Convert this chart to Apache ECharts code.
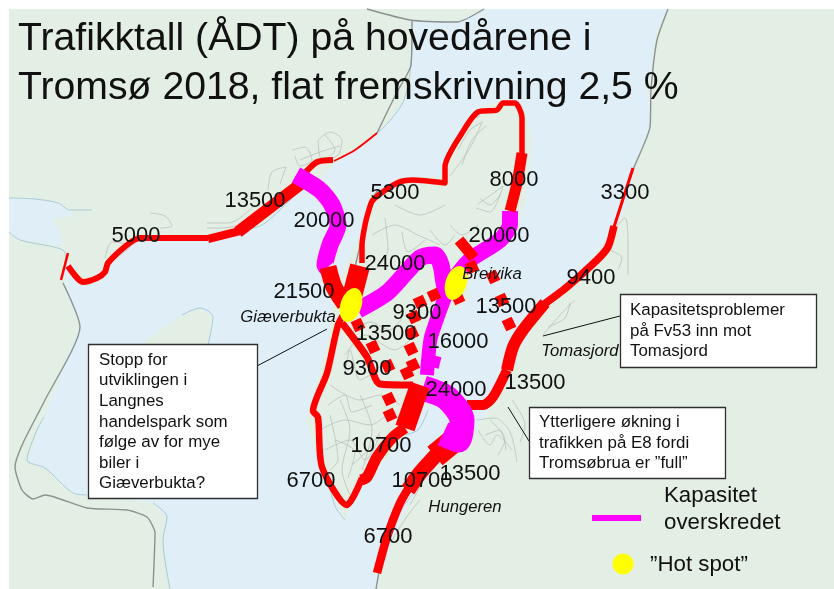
<!DOCTYPE html>
<html>
<head>
<meta charset="utf-8">
<style>html,body{margin:0;padding:0;background:#fff}#chart{width:834px;height:589px}</style>
<script src="https://cdn.jsdelivr.net/npm/echarts@6/dist/echarts.min.js"></script>
</head>
<body>
<div id="chart"></div>
<script>
// kart-koordinater
const tittel = 'Trafikktall (ÅDT) på hovedårene i\nTromsø 2018, flat fremskrivning 2,5 %';

// sjø og land
const kart = [[9, 9], [834, 9], [834, 589], [9, 589]];
const sjo = [[484, 9], [457, 21], [412, 20], [410, 60], [412, 75], [404, 100], [388, 123], [375, 135], [337, 162], [318, 180], [300, 190], [262, 225], [207, 238], [172, 238], [140, 236], [110, 265], [83, 283], [68, 262], [64, 272], [66, 292], [80, 325], [44, 417], [27, 460], [45, 468], [73, 493], [87, 495], [153, 503], [167, 517], [163, 540], [170, 589], [375, 589], [380, 575], [403, 513], [423, 483], [453, 447], [477, 427], [495, 400], [510, 360], [527, 340], [543, 307], [567, 287], [607, 240], [627, 207], [633, 170], [650, 127], [648, 90], [657, 30], [668, 9]];
const vik = [[9, 198], [35, 199], [58, 203], [70, 210], [73, 216], [52, 219], [60, 232], [63, 246], [40, 243], [20, 240], [9, 232]];
const tromsoya = [[513, 99], [480, 106], [455, 138], [443, 175], [400, 180], [370, 195], [358, 240], [345, 265], [335, 295], [328, 340], [312, 400], [306, 420], [320, 470], [345, 520], [362, 484], [392, 452], [415, 426], [425, 402], [432, 380], [436, 360], [431, 340], [440, 320], [468, 300], [472, 262], [505, 245], [525, 205], [532, 140], [525, 110]];
const neset = [[182, 315], [200, 308], [213, 317], [208, 345], [200, 420], [150, 498], [100, 470], [140, 345]];

// grå bilveier og strandlinjer
const gravei = [
  [[367, 9], [410, 20], [457, 22], [484, 9]],
  [[412, 20], [411, 65], [397, 92], [377, 133]],
  [[668, 9], [657, 40], [651, 90], [650, 127], [633, 170], [613, 230]],
  [[63, 283], [80, 327], [45, 400], [23, 443], [15, 467], [22, 490], [33, 499], [45, 495], [87, 508], [127, 510], [147, 517], [155, 533], [153, 587]],
  [[355, 267], [365, 225], [372, 200], [378, 190]],
  [[381, 560], [376, 589]]
];
const strand = [
  [[9, 198], [35, 199], [58, 203], [70, 210], [92, 210]],
  [[9, 232], [20, 240], [63, 250], [66, 262]],
  [[44, 417], [36, 432], [27, 460], [45, 468], [73, 493], [87, 495]],
  [[153, 503], [167, 517], [163, 540], [170, 589]],
  [[182, 315], [200, 308], [213, 317], [208, 345]],
  [[412, 40], [411, 65], [404, 100], [388, 123], [375, 135]],
  [[345, 520], [336, 508], [330, 490]],
  [[240, 231], [262, 225], [282, 208], [295, 195]],
  [[403, 435], [418, 430], [428, 410]]
];
const gater = [
  [[292, 150], [305, 147], [312, 160], [300, 166], [295, 156]],
  [[318, 140], [330, 132], [342, 140], [338, 155], [322, 160], [318, 140]],
  [[300, 160], [320, 152], [340, 146]],
  [[325, 135], [335, 150], [328, 158]],
  [[268, 190], [272, 172], [286, 167], [280, 184]],
  [[207, 223], [228, 223], [240, 218], [255, 205]],
  [[207, 228], [222, 228], [236, 226]],
  [[150, 213], [165, 216], [172, 226], [160, 228]],
  [[105, 258], [112, 242], [130, 246], [110, 262]],
  [[452, 148], [468, 122], [480, 116]],
  [[458, 150], [470, 130], [482, 122], [470, 148], [450, 176]],
  [[462, 165], [472, 140], [486, 126]],
  [[478, 204], [495, 192], [503, 186], [490, 212], [476, 208]],
  [[480, 198], [490, 205], [500, 195]],
  [[372, 235], [395, 225], [418, 235], [440, 245]],
  [[385, 218], [388, 250], [375, 270]],
  [[402, 232], [408, 252], [425, 240]],
  [[395, 205], [420, 215], [445, 205]],
  [[450, 225], [462, 235], [478, 225]],
  [[430, 230], [445, 245], [455, 235]],
  [[345, 355], [365, 335], [395, 350], [410, 340]],
  [[355, 330], [370, 322], [390, 330], [402, 318]],
  [[330, 385], [360, 400], [380, 395], [400, 405]],
  [[320, 430], [345, 420], [370, 425], [392, 410]],
  [[325, 450], [350, 440], [365, 460], [380, 435]],
  [[340, 400], [350, 430], [342, 470], [350, 495]],
  [[360, 395], [372, 430], [362, 470]],
  [[330, 415], [338, 460], [330, 470]],
  [[352, 465], [368, 450], [380, 432]],
  [[345, 375], [350, 350], [360, 380], [375, 372]],
  [[328, 405], [345, 395], [352, 412], [372, 405]],
  [[335, 440], [355, 452], [348, 478]],
  [[477, 420], [495, 418], [510, 432], [517, 462]],
  [[485, 435], [500, 430], [506, 450]],
  [[478, 430], [490, 445], [497, 435], [512, 450]],
  [[512, 400], [525, 425], [520, 442]],
  [[490, 420], [505, 440], [498, 455]],
  [[612, 232], [625, 218], [628, 245], [628, 275]],
  [[610, 250], [622, 258], [618, 270]],
  [[543, 335], [560, 315], [575, 300]],
  [[548, 327], [565, 318], [570, 302]],
  [[402, 508], [412, 495], [421, 485], [410, 505]],
  [[392, 540], [408, 515], [420, 500]]
];

// riks- og fylkesveier
const kvaloyaTynn = [[68, 253], [61, 280]];
const kvaloyaVest = [[68, 266], [83, 282], [97, 278], [105, 272], [108, 263], [127, 245], [140, 238], [160, 238], [208, 238]];
const kvaloyaMidt = [[208, 239], [240, 231]];
const kvaloyaOst = [[238, 232], [302, 183]];
const kvaloyaNord = [[305, 173], [317, 162], [333, 160]];
const kvaloyaNordTynn = [[334, 161], [355, 150], [377, 133]];
const kvaloyBrua = [[296, 175], [320, 190], [332, 205], [338, 225], [330, 245], [325, 265], [327, 268]];
const gieverVest = [[328, 267], [334, 287], [345, 304]];
const gieverNord = [[360, 266], [350, 304]];
const hovedTverr = [[358, 310], [388, 292], [420, 258], [435, 255], [441, 265], [445, 287], [452, 296]];
const breivikaNord = [[452, 282], [470, 260], [500, 240], [510, 224], [510, 211]];
const breivikaSor = [[447, 292], [431, 337], [428, 361], [427, 375]];
const bruLomme = [[428, 360], [440, 363]];
const bruHoved = [[423, 388], [447, 398], [462, 420], [458, 440], [443, 434]];
const bruSorKort = [[420, 385], [405, 428]];
const sorSor = [[405, 428], [393, 437], [377, 457], [367, 477], [361, 480]];
const vestRunde = [[362, 478], [347, 505], [322, 467], [318, 417], [313, 411], [327, 373], [338, 325], [345, 312]];
const indre = [[342, 323], [367, 357], [380, 384], [413, 385]];
const nordRunde = [[362, 263], [362, 245], [365, 225], [368, 213], [373, 200], [397, 183], [413, 180], [445, 183], [445, 167], [462, 133], [478, 112], [497, 110], [503, 103], [515, 103], [522, 118], [522, 155]];
const nordTykk = [[522, 153], [517, 183], [510, 211]];
const ostTynn = [[633, 168], [613, 230]];
const ostKort = [[614, 226], [608, 247], [597, 260], [567, 287], [543, 305]];
const e8Nord = [[545, 303], [523, 330], [513, 347], [507, 370]];
const e8Sor = [[507, 370], [493, 397], [483, 405], [467, 405]];
const sorTopp = [[452, 442], [435, 456]];
const sorStor = [[437, 454], [420, 473], [408, 490]];
const sorFastland = [[410, 486], [400, 503], [387, 537], [377, 573]];

// stiplede felt (avlest midtpunkt)
const stiplet = [[358, 325], [373, 347], [388, 366], [420, 302], [434, 295], [414, 317], [412, 333], [411, 349], [413, 365], [407, 373], [389, 399], [390, 415], [472, 267], [493, 277], [502, 300], [509, 324], [458, 298]];
const stipletLang = [[459, 240], [474, 258]];

const hotSpots = [[351, 305], [456, 283]];
const forklaringLinje = [[592, 518], [641, 518]];
const forklaringPunkt = [[623, 564]];

// trafikktall
const tall = [
  [136, 236, '5000'], [255, 201, '13500'], [324, 221, '20000'], [395, 193, '5300'],
  [514, 180, '8000'], [625, 193, '3300'], [499, 236, '20000'], [591, 278, '9400'],
  [395, 264, '24000'], [304, 292, '21500'], [417, 313, '9300'], [386, 334, '13500'],
  [458, 342, '16000'], [506, 307, '13500'], [535, 383, '13500'], [456, 390, '24000'],
  [367, 369, '9300'], [381, 446, '10700'], [311, 481, '6700'], [470, 474, '13500'],
  [422, 481, '10700'], [388, 537, '6700']
];
const steder = [[288, 317, 'Giæverbukta'], [492, 274, 'Breivika'], [580, 351, 'Tomasjord'], [465, 507, 'Hungeren']];

const boksVenstre = [[88, 344], [257, 498]];
const boksHoyre = [[620, 294], [816, 367]];
const boksSor = [[529, 407], [725, 478]];
const boksTekster = [
  [99, 422, 'Stopp for\nutviklingen i\nLangnes\nhandelspark som\nfølge av for mye\nbiler i\nGiæverbukta?'],
  [630, 331, 'Kapasitetsproblemer\npå Fv53 inn mot\nTomasjord'],
  [539, 443, 'Ytterligere økning i\ntrafikken på E8 fordi\nTromsøbrua er ”full”']
];
const pekere = [
  [[327, 329], [257, 366]],
  [[620, 316], [543, 336]],
  [[529, 441], [508, 407]]
];
const forklaringTekst = [[664, 509, 'Kapasitet\noverskredet'], [650, 565, '”Hot spot”']];

const rod = '#ff0000';
const lilla = '#ff00ff';

function flate(pts, farge, z) {
  return {
    type: 'custom', coordinateSystem: 'cartesian2d', silent: true, z: z, clip: false,
    data: [0],
    renderItem: function (params, api) {
      return {
        type: 'polygon',
        shape: { points: pts.map(p => api.coord(p)) },
        style: { fill: farge }
      };
    }
  };
}

function boks(hjorner) {
  const [a, b] = hjorner;
  return {
    type: 'custom', coordinateSystem: 'cartesian2d', silent: true, z: 8, clip: false,
    data: [0],
    renderItem: function (params, api) {
      const p = api.coord(a), q = api.coord(b);
      return {
        type: 'rect',
        shape: { x: p[0] + 0.5, y: p[1] + 0.5, width: q[0] - p[0], height: q[1] - p[1] },
        style: { fill: '#ffffff', stroke: '#2f2f2f', lineWidth: 1.3 }
      };
    }
  };
}

function vei(data, farge, bredde, z, myk) {
  return {
    type: 'line', data: data, showSymbol: false, silent: true, z: z || 5,
    smooth: myk === undefined ? 0.25 : myk, clip: false,
    lineStyle: { color: farge, width: bredde, cap: 'butt', join: 'round' }
  };
}

function tekst(data, fontSize, italic, align, lineHeight) {
  return {
    type: 'scatter', silent: true, z: 10, symbolSize: 1, itemStyle: { color: 'transparent', opacity: 1 }, clip: false,
    data: data,
    label: {
      show: true, position: 'inside', align: align || 'center', verticalAlign: 'middle',
      fontFamily: 'Liberation Sans', fontSize: fontSize, color: '#111',
      fontStyle: italic ? 'italic' : 'normal', lineHeight: lineHeight || fontSize + 4,
      formatter: p => p.data[2]
    }
  };
}

const series = [
  flate(kart, '#e3efe4', 1),
  flate(sjo, '#e0eff7', 2),
  flate(vik, '#e0eff7', 2),
  flate(tromsoya, '#e3efe4', 3),
  flate(neset, '#e3efe4', 3)
];
strand.forEach(s => series.push(vei(s, '#a8cbd8', 1, 4, 0.3)));
gater.forEach(s => series.push(vei(s, '#b9bfbc', 0.8, 4, 0.3)));
gravei.forEach(s => series.push(vei(s, '#8b9190', 1.4, 4, 0.2)));

series.push(
  vei(kvaloyaTynn, rod, 2.5),
  vei(kvaloyaVest, rod, 6),
  vei(kvaloyaMidt, rod, 8),
  vei(kvaloyaOst, rod, 12),
  vei(kvaloyaNord, rod, 6),
  vei(kvaloyaNordTynn, rod, 1.8),
  vei(nordRunde, rod, 5.5),
  vei(vestRunde, rod, 6.5),
  vei(indre, rod, 7),
  vei(ostTynn, rod, 3),
  vei(ostKort, rod, 7.5),
  vei(e8Nord, rod, 12),
  vei(e8Sor, rod, 10),
  vei(sorTopp, rod, 24),
  vei(sorStor, rod, 15),
  vei(sorFastland, rod, 8.5),
  vei(kvaloyBrua, lilla, 17),
  vei(hovedTverr, lilla, 17),
  vei(breivikaNord, lilla, 16),
  vei(breivikaSor, lilla, 14),
  vei(bruLomme, lilla, 12),
  vei(bruHoved, lilla, 25),
  vei(gieverVest, rod, 17, 6),
  vei(gieverNord, rod, 20, 6),
  vei(nordTykk, rod, 11, 6),
  vei(bruSorKort, rod, 20, 6),
  vei(sorSor, rod, 11, 6),
  vei(stipletLang, rod, 11, 6),
  {
    type: 'scatter', data: stiplet, silent: true, z: 6, clip: false,
    symbol: 'rect', symbolSize: 11, symbolRotate: 25,
    itemStyle: { color: rod, opacity: 1 }
  },
  {
    type: 'scatter', data: hotSpots, silent: true, z: 7, clip: false,
    symbol: 'circle', symbolSize: [21, 35], symbolRotate: -18,
    itemStyle: { color: '#ffff00', opacity: 1 }
  },
  vei(forklaringLinje, lilla, 6, 7, 0),
  {
    type: 'scatter', data: forklaringPunkt, silent: true, z: 7, clip: false,
    symbol: 'circle', symbolSize: 21,
    itemStyle: { color: '#ffff00', opacity: 1 }
  }
);
pekere.forEach(s => series.push(vei(s, '#111', 1, 7, 0)));
series.push(
  boks(boksVenstre), boks(boksHoyre), boks(boksSor),
  tekst(tall, 22),
  tekst(steder, 16.7, true),
  tekst(boksTekster, 16.9, false, 'left', 20.6),
  tekst(forklaringTekst, 22.3, false, 'left', 27)
);

const chart = echarts.init(document.getElementById('chart'), null, { renderer: 'canvas' });
chart.setOption({
  animation: false,
  backgroundColor: '#ffffff',
  title: {
    text: tittel, left: 13, top: 10, z: 12,
    textStyle: { fontFamily: 'Liberation Sans', fontSize: 39.2, fontWeight: 'normal', color: '#111', lineHeight: 49 }
  },
  grid: { left: 0, right: 0, top: 0, bottom: 0 },
  xAxis: { type: 'value', min: 0, max: 834, show: false },
  yAxis: { type: 'value', min: 0, max: 589, inverse: true, show: false },
  series: series
});
</script>
</body>
</html>
